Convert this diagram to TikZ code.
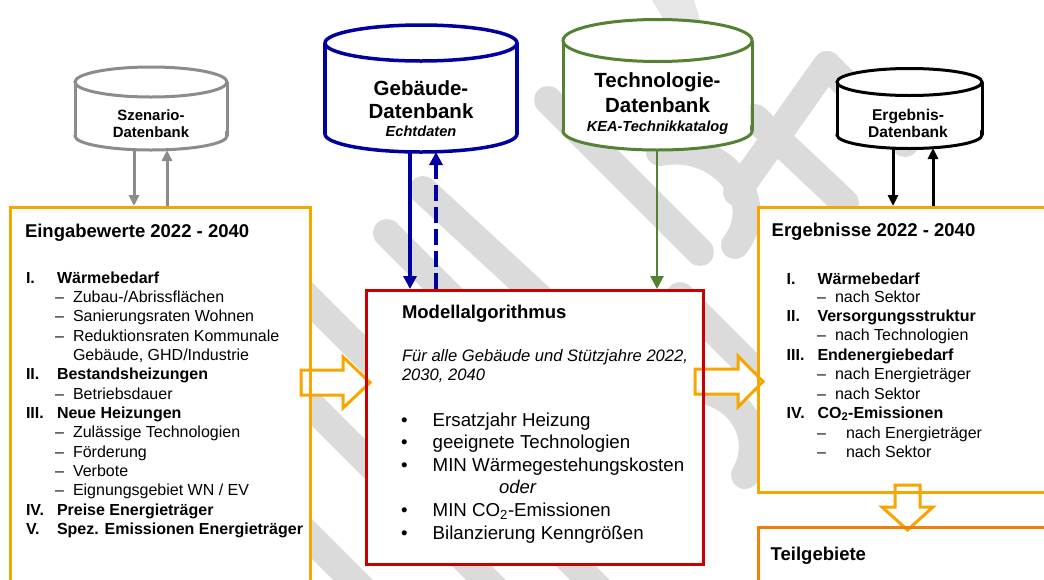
\documentclass[tikz,border=0pt]{standalone}
\usepackage{fontspec}
\setmainfont{Liberation Sans}
\usetikzlibrary{arrows.meta,calc}
\definecolor{boxorange}{RGB}{247,166,0}
\definecolor{teilorange}{RGB}{240,128,10}
\definecolor{modred}{RGB}{200,0,0}
\definecolor{dbblue}{RGB}{0,0,160}
\definecolor{dbgreen}{RGB}{84,130,53}
\definecolor{dbgray}{RGB}{140,140,140}
\definecolor{wmgray}{RGB}{219,219,219}
\newcommand\myT{\fontsize{18.5}{22}\selectfont\bfseries}
\newcommand\myL{\fontsize{16}{19}\selectfont}
\newcommand\myLb{\fontsize{16}{19}\selectfont\bfseries}
\newcommand\myM{\fontsize{18.7}{22}\selectfont}
\newcommand\myI{\fontsize{16.6}{20}\selectfont\itshape}
\newcommand\myOd{\fontsize{18.5}{22}\selectfont\itshape}
\newcommand\myCs{\fontsize{14.9}{18}\selectfont\bfseries}
\newcommand\myCe{\fontsize{15.6}{18}\selectfont\bfseries}
\newcommand\myCb{\fontsize{20.5}{24}\selectfont\bfseries}
\newcommand\myCi{\fontsize{14.6}{18}\selectfont\bfseries\itshape}
% cylinder: colour, line width, x1, x2, y top-centre, ry top, y bottom-centre, ry bottom
\newcommand\dbcyl[8]{%
  \pgfmathsetmacro\cylcx{(#3+#4)/2}%
  \pgfmathsetmacro\cylrx{(#4-#3)/2}%
  \draw[#1,line width=#2,fill=white] (\cylcx,#7) ellipse [x radius=\cylrx, y radius=#8];
  \fill[white] (#3+2,#5) rectangle (#4-2,#7);
  \draw[#1,line width=#2,fill=white] (\cylcx,#5) ellipse [x radius=\cylrx, y radius=#6];
  \draw[#1,line width=#2] (#3,#5) -- (#3,#7) (#4,#5) -- (#4,#7);
}
\begin{document}
\begin{tikzpicture}[x=1pt,y=-1pt,
  wm/.style={line width=28pt, draw=wmgray, line cap=round, line join=round},
  box/.style={line width=3pt, fill=white, inner sep=0pt, outer sep=0pt, anchor=north west},
  blk/.style={draw=boxorange, line width=3pt, fill=white, line join=miter},
  t/.style={anchor=base west, inner sep=0pt, outer sep=0pt},
  tc/.style={anchor=base, inner sep=0pt, outer sep=0pt},
  grayarr/.style={draw=dbgray, line width=3pt, -{Triangle[length=11pt,width=10pt]}},
  bluearr/.style={draw=dbblue, line width=3.2pt, -{Triangle[length=13pt,width=13pt]}},
  greenarr/.style={draw=dbgreen, line width=2.6pt, -{Triangle[length=13pt,width=13pt]}},
  blackarr/.style={draw=black, line width=3pt, -{Triangle[length=11pt,width=10pt]}}
]
\useasboundingbox (0,0) rectangle (1044,579);
\clip (0,0) rectangle (1044,579);
\fill[white] (0,0) rectangle (1044,579);

% ---- watermark ----
\fill[wmgray!70] (652,0) -- (694,0) -- (700,20) -- (664,20) -- cycle;
\draw[wm] (387,233) -- (560,406);
\draw[wm] (423,190) -- (566,322);
\draw[wm] (250,240) -- (620,610);
\draw[wm] (250,344) -- (520,614);
\draw[wm] (250,477) -- (400,627);
\draw[wm] (548,100) -- (700,252);
\draw[wm] (680,296) -- (790,406);
\draw[wm] (660,152) .. controls (720,140) and (770,200) .. (735,245);
\draw[wm] (705,390) .. controls (745,400) and (765,440) .. (745,475);
\draw[wm] (737,192) -- (827,65) -- (905,143);
\draw[wm] (755,118) -- (845,203);

% ---- databases ----
\dbcyl{dbgray}{3pt}{75}{227}{82}{15}{136}{14}
\dbcyl{dbblue}{3.5pt}{325}{517}{43}{18}{134}{18}
\dbcyl{dbgreen}{3pt}{563}{752}{40.5}{21}{131}{19}
\dbcyl{black}{3pt}{837}{982}{82}{13.5}{135}{13.5}

% ---- boxes ----
\node[box, draw=boxorange, minimum width=300pt, minimum height=400pt] (ein) at (10,207) {};
\node[box, draw=modred, minimum width=337pt, minimum height=274pt] (mod) at (366,290) {};
\node[box, draw=boxorange, minimum width=320pt, minimum height=285pt] (erg) at (758,207) {};
\node[box, draw=teilorange, minimum width=320pt, minimum height=100pt] (teil) at (758,527) {};

% ---- connectors ----
\coordinate (szA) at (134,150); \coordinate (einA) at (134,206);
\coordinate (szB) at (167,150); \coordinate (einB) at (167,206);
\coordinate (gbA) at (410,152); \coordinate (modA) at (410,289);
\coordinate (gbB) at (436,152); \coordinate (modB) at (436,289);
\coordinate (tkA) at (657,150); \coordinate (modC) at (657,289);
\coordinate (ebA) at (893,148); \coordinate (ergA) at (893,206);
\coordinate (ebB) at (933,148); \coordinate (ergB) at (933,206);
\draw[grayarr] (szA) -- (einA);
\draw[grayarr] (einB) -- (szB);
\draw[bluearr] (gbA) -- (modA);
\draw[bluearr, dash pattern=on 16pt off 6pt] (modB) -- (gbB);
\draw[greenarr] (tkA) -- (modC);
\draw[blackarr] (ebA) -- (ergA);
\draw[blackarr] (ergB) -- (ebB);

% ---- block arrows ----
\draw[blk] (301,370) -- (343,370) -- (343,357) -- (370,382.5) -- (343,408) -- (343,395) -- (301,395) -- cycle;
\draw[blk] (695,369) -- (738,369) -- (738,356) -- (763,381.5) -- (738,407) -- (738,394) -- (695,394) -- cycle;
\draw[blk] (895,485) -- (920,485) -- (920,507) -- (933,507) -- (907.5,530) -- (882,507) -- (895,507) -- cycle;

% borders on top
\draw[boxorange, line width=3pt] (ein.north west) rectangle (ein.south east);
\draw[modred, line width=3pt] (mod.north west) rectangle (mod.south east);
\draw[boxorange, line width=3pt] (erg.north west) rectangle (erg.south east);
\draw[teilorange, line width=3pt] (teil.north west) rectangle (teil.south east);

% ---- database texts ----
\node[tc, font=\myCs] (sz1) at (151,120) {Szenario-};
\node[tc, font=\myCs] (sz2) at (151,137) {Datenbank};
\node[tc, font=\myCb] (gb1) at (421,95) {Gebäude-};
\node[tc, font=\myCb] (gb2) at (421,118.3) {Datenbank};
\node[tc, font=\myCi] (gb3) at (421,136) {Echtdaten};
\node[tc, font=\myCb] (tk1) at (657.5,87.3) {Technologie-};
\node[tc, font=\myCb] (tk2) at (657.5,112.3) {Datenbank};
\node[tc, font=\myCi] (tk3) at (657.5,131.7) {KEA-Technikkatalog};
\node[tc, font=\myCe] (eb1) at (908,120) {Ergebnis-};
\node[tc, font=\myCe] (eb2) at (908,137.3) {Datenbank};

% ---- Eingabewerte ----
\node[t, font=\myT] (eT) at (25,237) {Eingabewerte 2022 - 2040};
\node[t, font=\myLb] (e1n) at (26,283) {I.};
\node[t, font=\myLb] (e1) at (57,283) {Wärmebedarf};
\node[t, font=\myL] (e1ad) at (55,302.3) {–};
\node[t, font=\myL] (e1a) at (73,302.3) {Zubau-/Abrissflächen};
\node[t, font=\myL] (e1bd) at (55,321.6) {–};
\node[t, font=\myL] (e1b) at (73,321.6) {Sanierungsraten Wohnen};
\node[t, font=\myL] (e1cd) at (55,341) {–};
\node[t, font=\myL] (e1c) at (73,341) {Reduktionsraten Kommunale};
\node[t, font=\myL] (e1c2) at (73,360) {Gebäude, GHD/Industrie};
\node[t, font=\myLb] (e2n) at (26,379.5) {II.};
\node[t, font=\myLb] (e2) at (57,379.5) {Bestandsheizungen};
\node[t, font=\myL] (e2ad) at (55,399) {–};
\node[t, font=\myL] (e2a) at (73,399) {Betriebsdauer};
\node[t, font=\myLb] (e3n) at (26,418) {III.};
\node[t, font=\myLb] (e3) at (57,418) {Neue Heizungen};
\node[t, font=\myL] (e3ad) at (55,437) {–};
\node[t, font=\myL] (e3a) at (73,437) {Zulässige Technologien};
\node[t, font=\myL] (e3bd) at (55,457) {–};
\node[t, font=\myL] (e3b) at (73,457) {Förderung};
\node[t, font=\myL] (e3cd) at (55,476) {–};
\node[t, font=\myL] (e3c) at (73,476) {Verbote};
\node[t, font=\myL] (e3dd) at (55,495) {–};
\node[t, font=\myL] (e3d) at (73,495) {Eignungsgebiet WN / EV};
\node[t, font=\myLb] (e4n) at (26,515) {IV.};
\node[t, font=\myLb] (e4) at (57,515) {Preise Energieträger};
\node[t, font=\myLb] (e5n) at (26,534) {V.};
\node[t, font=\myLb] (e5) at (57,534) {Spez. Emissionen Energieträger};

% ---- Modellalgorithmus ----
\node[t, font=\myT] (mT) at (402,318.3) {Modellalgorithmus};
\node[t, font=\myI] (mi1) at (402,361.7) {Für alle Gebäude und Stützjahre 2022,};
\node[t, font=\myI] (mi2) at (402,380.7) {2030, 2040};
\node[t, font=\myM] (mb1) at (401,426) {•};
\node[t, font=\myM] (m1) at (432.7,426) {Ersatzjahr Heizung};
\node[t, font=\myM] (mb2) at (401,448.3) {•};
\node[t, font=\myM] (m2) at (432.7,448.3) {geeignete Technologien};
\node[t, font=\myM] (mb3) at (401,471.7) {•};
\node[t, font=\myM] (m3) at (432.7,471.7) {MIN Wärmegestehungskosten};
\node[t, font=\myOd] (mo) at (499,493.3) {oder};
\node[t, font=\myM] (mb4) at (401,516.7) {•};
\node[t, font=\myM] (m4) at (432.7,516.7) {MIN CO\textsubscript{2}-Emissionen};
\node[t, font=\myM] (mb5) at (401,539.3) {•};
\node[t, font=\myM] (m5) at (432.7,539.3) {Bilanzierung Kenngrößen};

% ---- Ergebnisse ----
\node[t, font=\myT] (rT) at (771.7,236.7) {Ergebnisse 2022 - 2040};
\node[t, font=\myLb] (r1n) at (786.7,284.3) {I.};
\node[t, font=\myLb] (r1) at (817.5,284.3) {Wärmebedarf};
\node[t, font=\myL] (r1ad) at (817,302.7) {–};
\node[t, font=\myL] (r1a) at (835,302.7) {nach Sektor};
\node[t, font=\myLb] (r2n) at (786.7,321.7) {II.};
\node[t, font=\myLb] (r2) at (817.5,321.7) {Versorgungsstruktur};
\node[t, font=\myL] (r2ad) at (817,340.7) {–};
\node[t, font=\myL] (r2a) at (835,340.7) {nach Technologien};
\node[t, font=\myLb] (r3n) at (786.7,360) {III.};
\node[t, font=\myLb] (r3) at (817.5,360) {Endenergiebedarf};
\node[t, font=\myL] (r3ad) at (817,379.3) {–};
\node[t, font=\myL] (r3a) at (835,379.3) {nach Energieträger};
\node[t, font=\myL] (r3bd) at (817,399) {–};
\node[t, font=\myL] (r3b) at (835,399) {nach Sektor};
\node[t, font=\myLb] (r4n) at (786.7,418.3) {IV.};
\node[t, font=\myLb] (r4) at (817.5,418.3) {CO\textsubscript{2}-Emissionen};
\node[t, font=\myL] (r4ad) at (817,438.3) {–};
\node[t, font=\myL] (r4a) at (846,438.3) {nach Energieträger};
\node[t, font=\myL] (r4bd) at (817,457.7) {–};
\node[t, font=\myL] (r4b) at (846,457.7) {nach Sektor};

% ---- Teilgebiete ----
\node[t, font=\myT] (tT) at (770.7,560.7) {Teilgebiete};
\end{tikzpicture}
\end{document}
